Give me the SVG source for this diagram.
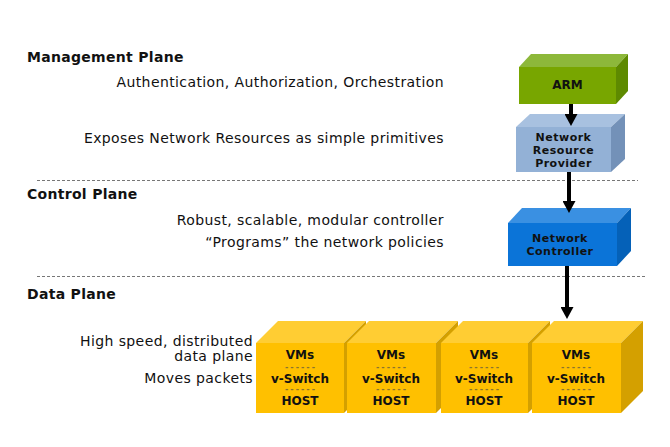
<svg xmlns="http://www.w3.org/2000/svg" width="670" height="447" viewBox="0 0 670 447">
<defs>
<marker id="ah" viewBox="0 0 12 13" refX="2" refY="6.5" markerWidth="12" markerHeight="13" markerUnits="userSpaceOnUse" orient="auto">
<path d="M0,0 L12,6.5 L0,13 z" fill="#000"/>
</marker>
<style>
text{font-family:"DejaVu Sans",Verdana,sans-serif;fill:#111}
.h{font-size:14px;font-weight:bold;letter-spacing:0.3px}
.b{font-size:14px;text-anchor:end;letter-spacing:0.4px}
.n{font-size:12px;font-weight:bold;text-anchor:middle}
.m{font-size:11px;font-weight:bold;text-anchor:middle;letter-spacing:0.5px}
.d{font-size:8px;font-weight:bold;text-anchor:middle;letter-spacing:2px;fill:#8a7430}
.sep{stroke:#777;stroke-width:1;stroke-dasharray:3,2}
.conn{stroke:#000;stroke-width:4;fill:none;marker-end:url(#ah)}
.hf{fill:#FFC000}.ht{fill:#FFCD33}.hs{fill:#D4A000}
</style>
</defs>
<rect width="670" height="447" fill="#fff"/>

<line class="sep" x1="37" y1="180.5" x2="638" y2="180.5"/>
<line class="sep" x1="37" y1="276.5" x2="645" y2="276.5"/>

<g id="labels">
<text class="h" x="27" y="62">Management Plane</text>
<text class="b" x="444" y="87">Authentication, Authorization, Orchestration</text>
<text class="b" x="444" y="143">Exposes Network Resources as simple primitives</text>
<text class="h" x="27" y="199">Control Plane</text>
<text class="b" x="444" y="225">Robust, scalable, modular controller</text>
<text class="b" x="444" y="247">“Programs” the network policies</text>
<text class="h" x="27" y="299">Data Plane</text>
<text class="b" x="253" y="346">High speed, distributed</text>
<text class="b" x="253" y="361">data plane</text>
<text class="b" x="253" y="383">Moves packets</text>
</g>

<g id="arm">
<polygon points="519,67 531,54 628,54 616,67" fill="#8DB83A"/>
<polygon points="616,67 628,54 628,91 616,104" fill="#5E8A00"/>
<rect x="519" y="67" width="97" height="37" fill="#78A600"/>
<text class="n" x="567.5" y="89">ARM</text>
</g>

<g id="nrp">
<polygon points="516,127 530,114 625,114 611,127" fill="#A8C1E0"/>
<polygon points="611,127 625,114 625,159 611,172" fill="#7391B8"/>
<rect x="516" y="127" width="95" height="45" fill="#93B1D6"/>
<text class="m" x="563.5" y="141">Network</text>
<text class="m" x="563.5" y="154">Resource</text>
<text class="m" x="563.5" y="167">Provider</text>
</g>

<g id="controller">
<polygon points="508,223 522,208 631,208 617,223" fill="#3A90E2"/>
<polygon points="617,223 631,208 631,251 617,266" fill="#0561B8"/>
<rect x="508" y="223" width="109" height="43" fill="#0B74D8"/>
<text class="m" x="560" y="242">Network</text>
<text class="m" x="560" y="255">Controller</text>
</g>

<g id="host1">
<polygon class="ht" points="256,343 278,321 366,321 344,343"/>
<polygon class="hs" points="344,343 366,321 366,391 344,413"/>
<rect class="hf" x="256" y="343" width="88" height="70"/>
<text class="n" x="300" y="359">VMs</text>
<text class="d" x="301" y="370">------</text>
<text class="n" x="300" y="383">v-Switch</text>
<text class="d" x="301" y="392">------</text>
<text class="n" x="300" y="405">HOST</text>
</g>

<g id="host2">
<polygon class="ht" points="347,343 369,321 458,321 436,343"/>
<polygon class="hs" points="436,343 458,321 458,391 436,413"/>
<rect class="hf" x="347" y="343" width="89" height="70"/>
<text class="n" x="391" y="359">VMs</text>
<text class="d" x="392" y="370">------</text>
<text class="n" x="391" y="383">v-Switch</text>
<text class="d" x="392" y="392">------</text>
<text class="n" x="391" y="405">HOST</text>
</g>

<g id="host3">
<polygon class="ht" points="441,343 463,321 550,321 528,343"/>
<polygon class="hs" points="528,343 550,321 550,391 528,413"/>
<rect class="hf" x="441" y="343" width="87" height="70"/>
<text class="n" x="484" y="359">VMs</text>
<text class="d" x="485" y="370">------</text>
<text class="n" x="484" y="383">v-Switch</text>
<text class="d" x="485" y="392">------</text>
<text class="n" x="484" y="405">HOST</text>
</g>

<g id="host4">
<polygon class="ht" points="532,343 554,321 643,321 621,343"/>
<polygon class="hs" points="621,343 643,321 643,391 621,413"/>
<rect class="hf" x="532" y="343" width="89" height="70"/>
<text class="n" x="576" y="359">VMs</text>
<text class="d" x="577" y="370">------</text>
<text class="n" x="576" y="383">v-Switch</text>
<text class="d" x="577" y="392">------</text>
<text class="n" x="576" y="405">HOST</text>
</g>

<g id="connectors">
<line class="conn" x1="571" y1="104" x2="571" y2="116"/>
<line class="conn" x1="569" y1="172" x2="569" y2="203"/>
<line class="conn" x1="567" y1="266" x2="567" y2="309"/>
</g>
</svg>
